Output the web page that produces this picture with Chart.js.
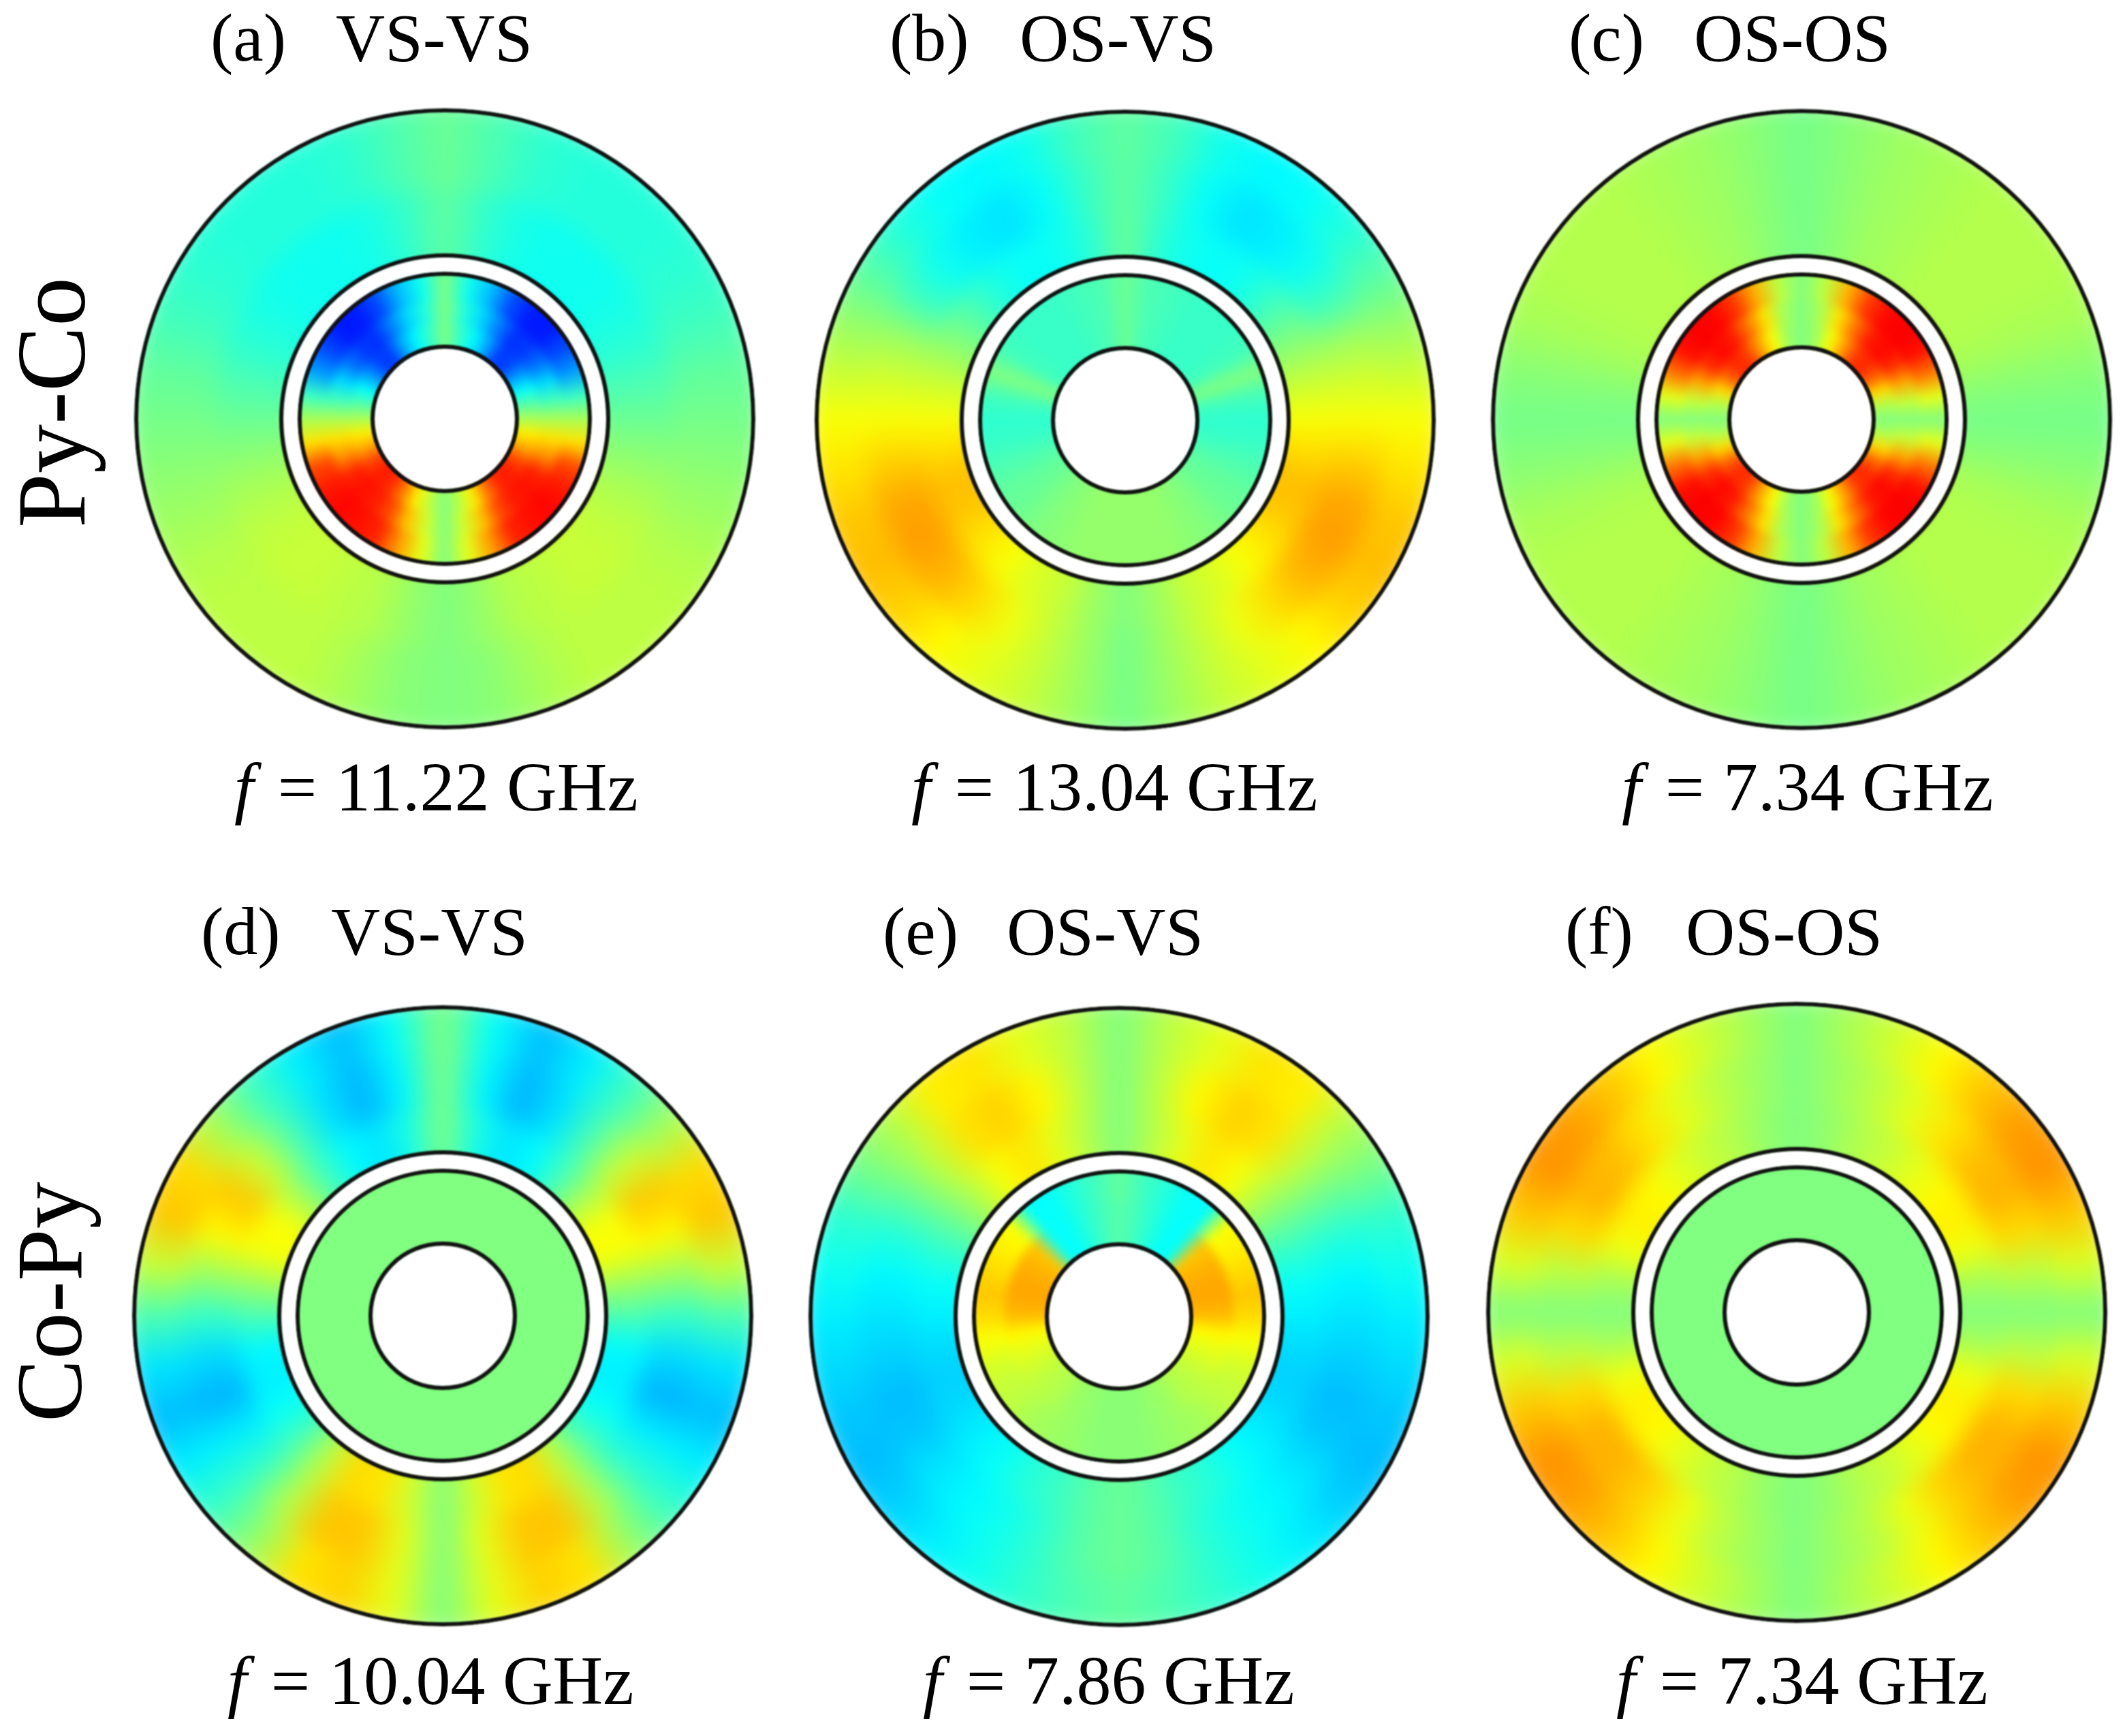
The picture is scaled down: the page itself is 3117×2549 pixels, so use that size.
<!DOCTYPE html>
<html>
<head>
<meta charset="utf-8">
<title>Py-Co / Co-Py mode profiles</title>
<script src="https://cdn.jsdelivr.net/npm/chart.js@4/dist/chart.umd.min.js"></script>
<style>
  html, body { margin: 0; background: #fff; }
  #page { position: relative; width: 3117px; height: 2549px; overflow: hidden; background: #fff; }
  #page canvas { position: absolute; }
  .heat-outer { filter: blur(16px); }
  .heat-inner { filter: blur(7px); }
  .rings { filter: blur(0.8px); }
  .label { position: absolute; font-family: "Liberation Serif", serif; color: #000; line-height: 1; white-space: pre; filter: blur(0.7px); }
  .label i { position: relative; left: -12px; }
  .label span { position: relative; left: -2px; }
</style>
</head>
<body>
<div id="page"></div>
<script>
// Field amplitude on a 0-100 colour scale (50 = green), read every 10 degrees
// clockwise from the top of the disc to its bottom. The discs are left-right symmetric.
const angles = [0, 10, 20, 30, 40, 50, 60, 70, 80, 90, 100, 110, 120, 130, 140, 150, 160, 170, 180];

const aOuterFar  = [48, 45, 42, 41, 41, 41, 42, 44, 47, 49, 51, 53, 55, 56, 56, 56, 54, 51, 50];
const aOuterNear = [47, 43, 40, 39, 39, 39, 40, 42, 45, 48, 51, 54, 56, 57, 57, 56, 55, 52, 50];
const aInnerFar  = [50, 39, 31, 20, 15, 15, 20, 28, 43, 54, 65, 80, 85, 87, 86, 84, 72, 60, 50];
const aInnerMid  = [50, 41, 34, 25, 17, 18, 24, 34, 44, 54, 65, 73, 84, 86, 85, 80, 68, 58, 50];
const aInnerNear = [50, 43, 37, 29, 18, 19, 28, 38, 46, 54, 64, 71, 81, 85, 84, 76, 64, 56, 50];

const bOuterFar  = [47, 44, 39, 37, 38, 41, 46, 52, 57, 62, 65, 68, 69, 67, 63, 60, 57, 53, 49];
const bOuterMid  = [47, 43, 38, 35, 36, 39, 44, 53, 58, 62, 67, 71, 72, 70, 66, 61, 57, 53, 49];
const bOuterNear = [48, 42, 39, 38, 39, 43, 48, 53, 58, 62, 66, 69, 68, 65, 62, 59, 57, 53, 50];
const bInner     = [48, 45, 44, 43, 43, 43, 44, 50, 44, 42, 43, 45, 47, 48, 50, 51, 52, 52, 52];

const cOuter     = [49, 51, 53, 54, 55, 55, 55, 54, 51, 49, 51, 54, 55, 55, 55, 54, 53, 51, 49];
const cInnerFar  = [50, 56, 70, 82, 87, 88, 86, 76, 60, 50, 60, 76, 86, 88, 87, 82, 70, 56, 50];
const cInnerMid  = [50, 54, 65, 76, 85, 87, 83, 71, 57, 50, 57, 71, 83, 87, 85, 76, 65, 54, 50];
const cInnerNear = [50, 53, 62, 72, 82, 84, 78, 66, 55, 50, 55, 66, 78, 84, 82, 72, 62, 53, 50];

const dOuterFar  = [50, 38, 31, 36, 44, 54, 66, 68, 57, 45, 35, 31, 36, 43, 52, 65, 67, 60, 50];
const dOuterMid  = [50, 37, 30, 35, 45, 57, 68, 63, 53, 43, 34, 30, 36, 43, 55, 68, 68, 60, 50];
const dOuterNear = [50, 40, 35, 37, 44, 54, 62, 62, 53, 45, 37, 36, 38, 44, 55, 66, 65, 58, 50];
const dInner     = [50, 50, 50, 50, 50, 50, 50, 50, 50, 50, 50, 50, 50, 50, 50, 50, 50, 50, 50];

const eOuterFar  = [50, 56, 60, 65, 64, 55, 49, 42, 39, 36, 34, 32, 31, 33, 36, 39, 42, 45, 47];
const eOuterMid  = [50, 56, 63, 67, 65, 56, 48, 41, 37, 35, 33, 31, 32, 35, 37, 39, 42, 46, 48];
const eOuterNear = [50, 55, 60, 65, 62, 55, 48, 42, 38, 36, 34, 33, 34, 36, 38, 41, 43, 46, 48];
const eInnerFar  = [47, 44, 41, 38, 38, 62, 64, 66, 68, 66, 62, 59, 57, 56, 54, 53, 52, 51, 51];
const eInnerNear = [46, 44, 41, 38, 38, 68, 70, 71, 71, 69, 63, 60, 58, 56, 55, 53, 52, 51, 51];

const fOuterFar  = [50, 54, 58, 63, 68, 72, 73, 68, 59, 50, 59, 68, 73, 72, 68, 63, 58, 54, 50];
const fOuterMid  = [50, 53, 56, 60, 65, 69, 70, 66, 56, 50, 56, 66, 70, 70, 67, 61, 56, 53, 50];
const fOuterNear = [50, 52, 55, 57, 60, 63, 64, 61, 54, 50, 54, 61, 64, 63, 60, 57, 55, 52, 50];
const fInner     = [50, 50, 50, 50, 50, 50, 50, 50, 50, 50, 50, 50, 50, 50, 50, 50, 50, 50, 50];

const panelLetters = ['(a)', '(b)', '(c)', '(d)', '(e)', '(f)'];
const modeLabels = ['VS-VS', 'OS-VS', 'OS-OS', 'VS-VS', 'OS-VS', 'OS-OS'];
const frequencies = ['11.22 GHz', '13.04 GHz', '7.34 GHz', '10.04 GHz', '7.86 GHz', '7.34 GHz'];
const rowLabels = ['Py-Co', 'Co-Py'];

const outerBands = [
    [aOuterFar, aOuterNear], [bOuterFar, bOuterMid, bOuterNear], [cOuter],
    [dOuterFar, dOuterMid, dOuterNear], [eOuterFar, eOuterMid, eOuterNear], [fOuterFar, fOuterMid, fOuterNear]
];
const innerBands = [
    [aInnerFar, aInnerMid, aInnerNear], [bInner], [cInnerFar, cInnerMid, cInnerNear],
    [dInner], [eInnerFar, eInnerNear], [fInner]
];

// layout, page pixels
const centers = [[653, 615], [1652, 617], [2645, 616], [650, 1932], [1643, 1933], [2638, 1927]];
const letterX = [309, 1306, 2303, 295, 1296, 2298];
const modeX = [493, 1497, 2487, 486, 1478, 2475];
const freqX = [356, 1350, 2393, 346, 1367, 2385];
const titleBaseline = [90, 1402];
const freqBaseline = [1190, 2502];
const SIZE = 1040;

const page = document.getElementById('page');

// jet colour map, v in 0-100
function jet(v) {
    const t = v / 100;
    const ch = x => Math.round(255 * Math.max(0, Math.min(1, 1.5 - Math.abs(4 * t - x))));
    return `rgb(${ch(3)},${ch(2)},${ch(1)})`;
}

function addCanvas(center, className) {
    const canvas = document.createElement('canvas');
    canvas.width = SIZE;
    canvas.height = SIZE;
    canvas.className = className;
    canvas.style.left = (center[0] - SIZE / 2) + 'px';
    canvas.style.top = (center[1] - SIZE / 2) + 'px';
    canvas.style.width = SIZE + 'px';
    canvas.style.height = SIZE + 'px';
    page.appendChild(canvas);
    return canvas;
}

const baseOptions = {
    responsive: false,
    animation: false,
    devicePixelRatio: 1,
    events: [],
    plugins: { legend: { display: false }, tooltip: { enabled: false } }
};

// one ring of a heat chart, one slice per reading
function heatRing(ctx, half, weight) {
    const samples = half.concat(half.slice(1, -1).reverse());
    const gradient = ctx.createConicGradient(-Math.PI / 2, SIZE / 2, SIZE / 2);
    samples.forEach((v, i) => gradient.addColorStop(i / samples.length, jet(v)));
    gradient.addColorStop(1, jet(samples[0]));
    return {
        data: samples.map(() => 1),
        backgroundColor: samples.map(() => gradient),
        borderColor: samples.map(() => gradient),
        borderWidth: 2,
        weight: weight
    };
}

function renderHeat(index, bands, weights, radius, hole, className) {
    const canvas = addCanvas(centers[index], className);
    const ctx = canvas.getContext('2d');
    new Chart(canvas, {
        type: 'doughnut',
        data: {
            labels: angles.concat(angles.slice(1, -1).reverse()),
            datasets: bands.map((b, i) => heatRing(ctx, b, weights[i]))
        },
        options: { ...baseOptions, layout: { padding: SIZE / 2 - radius }, cutout: hole, rotation: -5 }
    });
}

// white mask and black circles laid over the heat charts
function renderRings(index) {
    const canvas = addCanvas(centers[index], 'rings');
    const bands = [
        ['#ffffff', 64], ['#111111', 6], ['rgba(0,0,0,0)', 207], ['#111111', 6], ['#ffffff', 21],
        ['#111111', 6], ['rgba(0,0,0,0)', 101], ['#111111', 6], ['#ffffff', 103]
    ];
    new Chart(canvas, {
        type: 'doughnut',
        data: {
            labels: ['ring'],
            datasets: bands.map(b => ({ data: [1], backgroundColor: b[0], borderWidth: 0, weight: b[1] }))
        },
        options: { ...baseOptions, cutout: 0 }
    });
}

function addLabel(html, x, baseline, size) {
    const el = document.createElement('div');
    el.className = 'label';
    el.innerHTML = html;
    el.style.left = x + 'px';
    el.style.top = (baseline - 0.8375 * size) + 'px';
    el.style.fontSize = size + 'px';
    page.appendChild(el);
}

function addRowLabel(text, baselineX, startY, size) {
    const el = document.createElement('div');
    el.className = 'label';
    el.textContent = text;
    el.style.left = (baselineX - 0.8375 * size) + 'px';
    el.style.top = startY + 'px';
    el.style.fontSize = size + 'px';
    el.style.transformOrigin = '0 0';
    el.style.transform = 'rotate(-90deg)';
    page.appendChild(el);
}

// radial widths of the bands, outermost first
const outerWeights = { 1: [275], 2: [125, 150], 3: [80, 80, 115] };
const innerWeights = { 1: [147], 2: [62, 85], 3: [57, 35, 55] };

centers.forEach((c, i) => {
    renderHeat(i, outerBands[i], outerWeights[outerBands[i].length], 465, 190, 'heat-outer');
    renderHeat(i, innerBands[i], innerWeights[innerBands[i].length], 232, 85, 'heat-inner');
    renderRings(i);
});
centers.forEach((c, i) => {
    const row = i < 3 ? 0 : 1;
    addLabel(panelLetters[i], letterX[i], titleBaseline[row], 100);
    addLabel(modeLabels[i], modeX[i], titleBaseline[row], 100);
    addLabel('<i>f</i> <span>=</span> ' + frequencies[i], freqX[i], freqBaseline[row], 102);
});
addRowLabel(rowLabels[0], 125, 775, 144);
addRowLabel(rowLabels[1], 120, 2088, 138);
</script>
</body>
</html>
